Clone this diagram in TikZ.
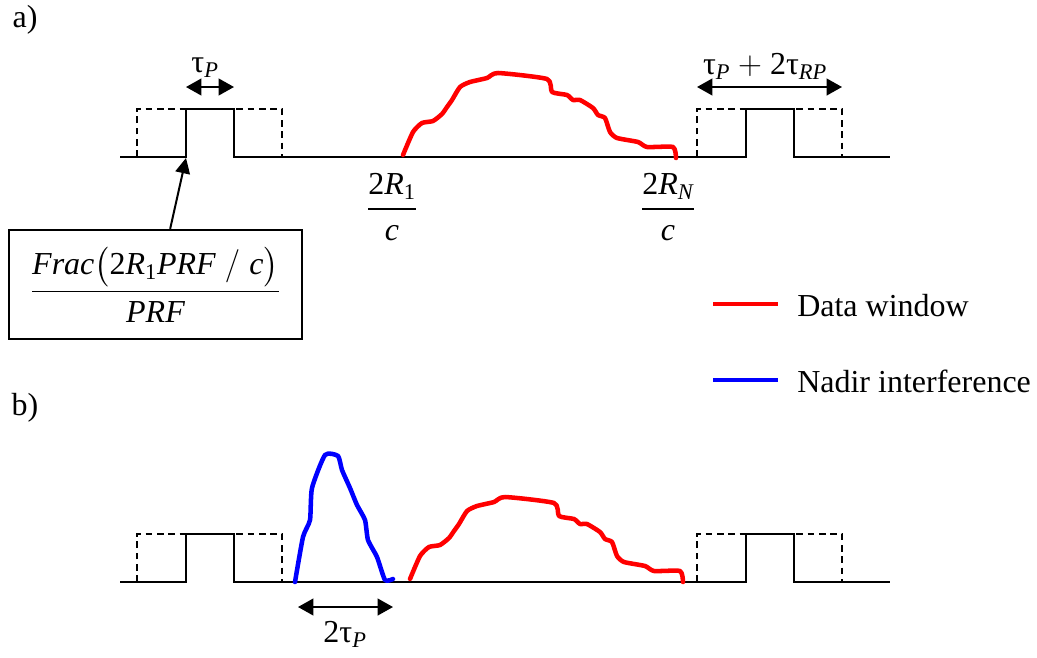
\documentclass[tikz,border=0pt]{standalone}
\usepackage{amsmath}
\usepackage{fontspec}
\setmainfont{Liberation Serif}
\usepackage{tikz}
\usetikzlibrary{calc}
\usetikzlibrary{positioning}
\usetikzlibrary{arrows.meta}
\definecolor{dataColor}{HTML}{FF0000}
\definecolor{nadirColor}{HTML}{0000FF}

\begin{document}
\begin{tikzpicture}[
			x=0.75pt, y=-0.75pt,
			sig/.style={line width=1.5pt, line join=miter},
			gate/.style={line width=1.5pt, dash pattern=on 5pt off 3.5pt},
			dim/.style={line width=1.5pt, {Triangle[length=11.5pt,width=12.5pt]}-{Triangle[length=11.5pt,width=12.5pt]}},
			datawin/.style={line width=3.4pt, draw=dataColor, line join=round, line cap=round},
			nadir/.style={line width=3.4pt, draw=nadirColor, line join=round, line cap=round},
			lbl/.style={font=\fontsize{24}{28}\selectfont, inner sep=0pt},
			]
			\useasboundingbox (0,0) rectangle (1037,657);
			% transmit pulses and receive gates
			\foreach \yb in {157,582} {
				\draw[sig] (120,\yb) -- (186,\yb) -- (186,\yb-48) -- (234,\yb-48) -- (234,\yb) -- (746,\yb) -- (746,\yb-48) -- (794,\yb-48) -- (794,\yb) -- (890,\yb);
				\foreach \xo in {0,560} \draw[gate] (137+\xo,\yb) -- (137+\xo,\yb-48) -- (282+\xo,\yb-48) -- (282+\xo,\yb);
			}
			% echoes
			\foreach \dx/\dy in {0/0,7/424} \draw[datawin, shift={(\dx,\dy)}] plot[smooth, tension=0.35] coordinates {(403,155) (413,132) (422,123) (433,121) (442,114) (447,107) (452,100) (460,87) (470,82) (487,78) (498,73) (547,79) (552,92) (567,95) (573,100) (580,100) (593,108) (598,115) (605,118) (610,132) (617,138) (638,142) (647,147) (673,147) (676,158)};
			\draw[nadir] plot[smooth, tension=0.35] coordinates {(295,582) (303,537) (310,520) (312,488) (325,455) (338,456) (342,470) (350,488) (357,505) (365,520) (368,540) (377,557) (385,580) (393,579)};
			% dimension arrows
			\coordinate (tpL) at (186,87);
			\coordinate (tpR) at (234,87);
			\coordinate (trL) at (697,87);
			\coordinate (trR) at (842,87);
			\coordinate (nL) at (298,607);
			\coordinate (nR) at (393,607);
			\draw[dim] (tpL) -- (tpR);
			\draw[dim] (trL) -- (trR);
			\draw[dim] (nL) -- (nR);
			\node[lbl] (tp) at (205,68) {τ$_{\textit{P}}$};
			\node[lbl] (tr) at (765,66) {τ$_{\textit{P}}$ $+$ 2τ$_{\textit{RP}}$};
			\node[lbl] (tn) at (345,634) {2τ$_{\textit{P}}$};
			% range labels
			\node[lbl] (r1) at (392,207) {$\displaystyle\frac{\text{2}\textit{R}_{\text{1}}}{\textit{c}}$};
			\node[lbl] (rn) at (668,207) {$\displaystyle\frac{\text{2}\textit{R}_{\textit{N}}}{\textit{c}}$};
			\node[lbl, draw, line width=1.5pt, minimum width=220pt, minimum height=82pt] (fbox) at (155.5,284.5) {$\displaystyle\frac{\textit{Frac}\bigl(\text{2}\textit{R}_{\text{1}}\textit{PRF}\;/\;\textit{c}\bigr)}{\textit{PRF}}$};
			\coordinate (p1) at (186,158);
			\draw[line width=1.5pt, -{Triangle[length=11.5pt,width=11pt]}] ([xshift=11pt]fbox.north) -- (p1);
			% panel tags
			\node[lbl] (ta) at (25,20) {a)};
			\node[lbl] (tb) at (25,408) {b)};
			% legend
			\coordinate (dw0) at (713,304);
			\coordinate (dw1) at (778,304);
			\coordinate (ni0) at (713,380);
			\coordinate (ni1) at (778,380);
			\draw[datawin, line cap=butt] (dw0) -- (dw1);
			\draw[nadir, line cap=butt] (ni0) -- (ni1);
			\node[lbl, anchor=west] (dw) at (797,306) {Data window};
			\node[lbl, anchor=west] (ni) at (797,381) {Nadir interference};
		\end{tikzpicture}
\end{document}
